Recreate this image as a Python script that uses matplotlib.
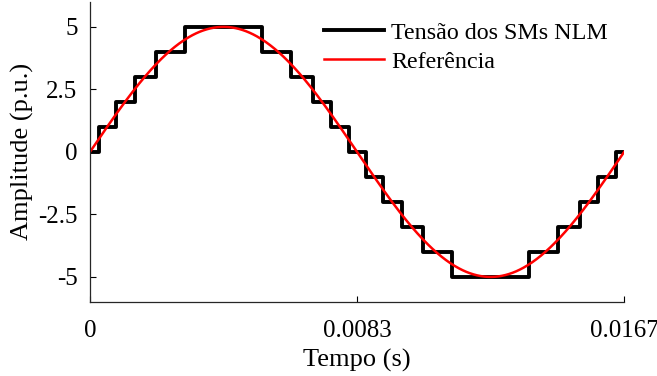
import numpy as np
import matplotlib
matplotlib.use('Agg')
import matplotlib.pyplot as plt

plt.rcParams['font.family'] = ['Liberation Serif', 'DejaVu Serif']
plt.rcParams['mathtext.fontset'] = 'stix'

# NLM staircase: switching instants (ms) and the level held after each one
step_times_ms = [0.0, 0.266, 0.808, 1.389, 2.057, 2.970, 5.363, 6.276, 6.944,
                 7.525, 8.068, 8.599, 9.142, 9.722, 10.390, 11.304, 13.696,
                 14.611, 15.278, 15.859, 16.401, 16.667]
step_levels = [0, 1, 2, 3, 4, 5, 4, 3, 2, 1, 0, -1, -2, -3, -4, -5, -4,
               -3, -2, -1, 0, 0]

# reference sine
ref_amplitude = 5.0
ref_freq = 60.0

x_ticks = [0, 1 / 120, 1 / 60]
x_ticklabels = ['0', '0.0083', '0.0167']
y_ticks = [-5, -2.5, 0, 2.5, 5]
y_ticklabels = ['-5', '-2.5', '0', '2.5', '5']

t_stair = np.array(step_times_ms) / 1000.0
t_ref = np.linspace(0, 1 / ref_freq, 600)
v_ref = ref_amplitude * np.sin(2 * np.pi * ref_freq * t_ref)

fig = plt.figure(figsize=(6.57, 3.76), dpi=100)
ax = fig.add_axes([0.137, 0.197, 0.813, 0.798])

ax.step(t_stair, step_levels, where='post', color='black', lw=2.8,
        label='Tensão dos SMs NLM')
ax.plot(t_ref, v_ref, color='red', lw=1.8, label='Referência')

ax.set_xlim(0, 1 / 60)
ax.set_ylim(-6, 6)
ax.set_xticks(x_ticks)
ax.set_xticklabels(x_ticklabels)
ax.set_yticks(y_ticks)
ax.set_yticklabels(y_ticklabels)
ax.tick_params(direction='in', labelsize=18, length=4, width=0.8, pad=9)
ax.tick_params(axis='x', pad=13)
for s in ['top', 'right']:
    ax.spines[s].set_visible(False)
for s in ['left', 'bottom']:
    ax.spines[s].set_linewidth(0.9)
    ax.spines[s].set_color('#262626')

ax.set_xlabel('Tempo (s)', fontsize=19, labelpad=5)
ax.set_ylabel('Amplitude (p.u.)', fontsize=19, labelpad=3)

ax.legend(loc='upper right', bbox_to_anchor=(1.01, 1.005), frameon=False,
          fontsize=17.3, handlelength=2.5, handletextpad=0.3, labelspacing=0.3)

fig.savefig('out.png', dpi=100)
